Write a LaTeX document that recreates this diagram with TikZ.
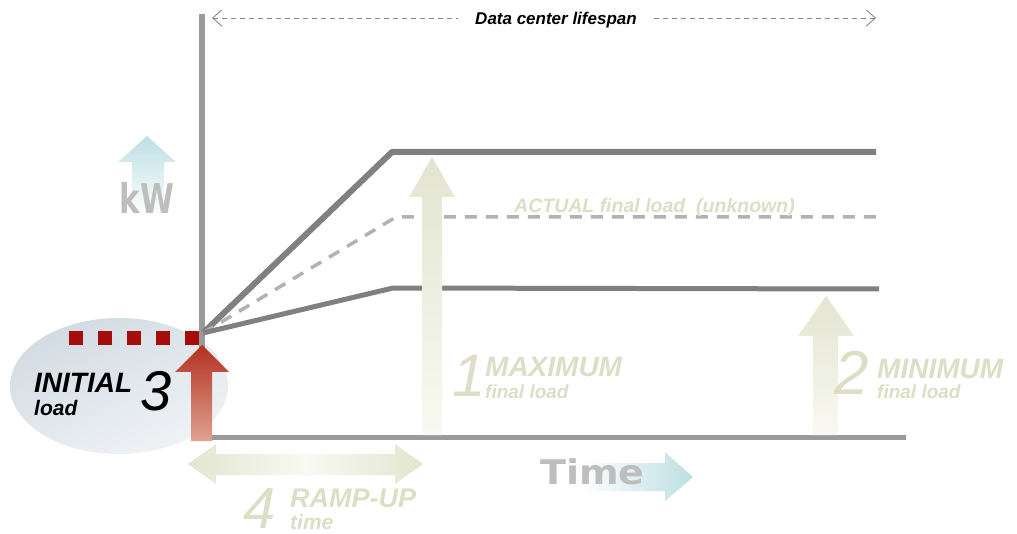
\documentclass[tikz,border=0pt]{standalone}
\usepackage{fontspec}
\setmainfont{Liberation Sans}
\newfontfamily\heavyfont{DejaVu Sans}
\usetikzlibrary{arrows.meta,shapes.geometric}

\definecolor{axisgray}{HTML}{9A9A9A}
\definecolor{linegray}{HTML}{808080}
\definecolor{dashgray}{HTML}{B2B2B2}
\definecolor{spangray}{HTML}{888888}
\definecolor{olive}{HTML}{E3E5D0}
\definecolor{olivefade}{HTML}{F9F9F3}
\definecolor{textolive}{HTML}{DDDEC5}
\definecolor{initred}{HTML}{A50D0D}
\definecolor{arrowred}{HTML}{B3301F}
\definecolor{salmon}{HTML}{E0A290}
\definecolor{iceblue}{HTML}{BDDFE3}
\definecolor{ellblue}{HTML}{D2DBE2}
\definecolor{ellpale}{HTML}{F0F3F6}
\definecolor{bigtext}{HTML}{BEBEBE}

\newcommand{\lblfont}[1]{\fontsize{#1}{#1}\selectfont\bfseries\itshape}
\newcommand{\numfont}[1]{\fontsize{#1}{#1}\selectfont\itshape}

\tikzset{
	axis/.style={line width=6pt, axisgray},
	loadline/.style={line width=6pt, linegray, line join=round},
	actline/.style={line width=3.5pt, dashgray, dash pattern=on 12pt off 9pt},
	spanline/.style={line width=0.9pt, spangray, dash pattern=on 5pt off 4pt},
	olivetext/.style={textolive, inner sep=0pt, anchor=base west},
	blacktext/.style={black, inner sep=0pt, anchor=base west},
}

\begin{document}
\begin{tikzpicture}[x=1pt,y=1pt]
			\useasboundingbox (0,0) rectangle (1017,-534);

			\node [ellipse, minimum width=218pt, minimum height=136pt, inner sep=0pt, top color=ellblue, bottom color=ellpale, shading angle=25] (bubble) at (119,-386) {};

			\coordinate (ytop) at (202,-14);
			\coordinate (ybot) at (202,-437);
			\coordinate (xright) at (906,-437);
			\draw [axis] (ytop)--(ybot);
			\draw [axis, line width=5pt] (ybot)--(xright);

			\coordinate (O) at (203,-333);
			\coordinate (maxbend) at (392,-152);
			\coordinate (maxend) at (876,-152);
			\coordinate (actbend) at (396,-217);
			\coordinate (actend) at (876,-217);
			\coordinate (minbend) at (393,-288);
			\coordinate (minend) at (879,-289);
			\draw [loadline] (O)--(maxbend)--(maxend);
			\draw [actline] (O)--(actbend)--(actend);
			\draw [loadline, line width=5pt] (O)--(minbend)--(minend);

			\foreach \x in {69,98,127,156,185}
				\fill [initred] (\x,-331) rectangle ++(14,-14);
			\shade [top color=arrowred, bottom color=salmon] (191,-441)--(191,-372)--(175,-372)--(202,-345)--(229,-372)--(212,-372)--(212,-441)--cycle;

			\shade [top color=olive, bottom color=olivefade] (422,-435)--(422,-197)--(409,-197)--(432,-157)--(455,-197)--(442,-197)--(442,-435)--cycle;
			\shade [top color=olive, bottom color=olivefade] (813,-435)--(813,-336)--(798,-336)--(826,-296)--(854,-336)--(838,-336)--(838,-435)--cycle;
			\shade [left color=olive, right color=olive, middle color=olivefade] (188,-464)--(216,-444)--(216,-454)--(395,-454)--(395,-444)--(423,-464)--(395,-484)--(395,-475)--(216,-475)--(216,-484)--cycle;

			\shade [left color=white, right color=iceblue] (580,-463)--(665,-463)--(665,-452)--(693,-477)--(665,-501)--(665,-491)--(580,-491)--cycle;
			\shade [top color=iceblue, bottom color=white] (132,-215)--(132,-162)--(118,-162)--(147,-136)--(176,-162)--(164,-162)--(164,-215)--cycle;

			\node [bigtext, inner sep=0pt, anchor=base, xscale=0.75] (kw) at (147,-214) {\heavyfont\fontsize{41}{41}\selectfont\bfseries kW};
			\node [bigtext, inner sep=0pt, anchor=base west, xscale=1.12] (time) at (540,-484) {\heavyfont\fontsize{34}{34}\selectfont\bfseries Time};

			\node [black, inner xsep=17pt, inner ysep=0pt, anchor=base] (span) at (556,-25) {\lblfont{17}Data center lifespan};
			\coordinate (spanL) at (212,-18);
			\coordinate (spanR) at (876,-18);
			\draw [spanline, {Straight Barb[length=9pt,width=16pt]}-] (spanL)--(span.west |- spanL);
			\draw [spanline, -{Straight Barb[length=9pt,width=16pt]}] (span.east |- spanR)--(spanR);

			\node [olivetext] (actual) at (514,-213) {\lblfont{19.5}ACTUAL final load\ \ (unknown)};

			\node [blacktext] (initial) at (34,-392) {\lblfont{28}INITIAL};
			\node [blacktext] (load) at (34,-415) {\lblfont{21}load};
			\node [blacktext] (three) at (140,-410) {\numfont{56}3};

			\node [olivetext] (one) at (452,-396) {\numfont{60}1};
			\node [olivetext] (maxlbl) at (485,-377) {\lblfont{28}MAXIMUM};
			\node [olivetext] (maxsub) at (485,-398) {\lblfont{19}final load};

			\node [olivetext] (two) at (834,-395) {\numfont{62}2};
			\node [olivetext] (minlbl) at (877,-378) {\lblfont{28}MINIMUM};
			\node [olivetext] (minsub) at (877,-398) {\lblfont{19}final load};

			\node [olivetext] (four) at (243,-528) {\numfont{58}4};
			\node [olivetext] (ramplbl) at (290,-507) {\lblfont{27}RAMP-UP};
			\node [olivetext] (rampsub) at (290,-529) {\lblfont{21}time};
		\end{tikzpicture}
\end{document}
